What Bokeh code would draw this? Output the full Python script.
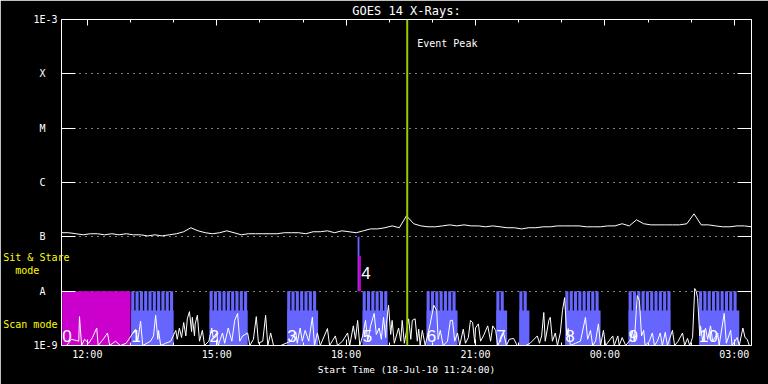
from bokeh.plotting import figure
from bokeh.models import FixedTicker, LinearAxis, LogAxis, Span
from bokeh.core.properties import value
from bokeh.embed import file_html
from bokeh.resources import INLINE

# ---------------- data ----------------
# time axis: minutes after start 18-Jul-10 11:24:00
t_min, t_max = 0, 960
tick_minutes = [36, 216, 396, 576, 756, 936]
tick_labels = ["12:00", "15:00", "18:00", "21:00", "00:00", "03:00"]
minor_minutes = [36, 96, 156, 216, 276, 336, 396, 456, 516, 576, 636, 696, 756, 816, 876, 936]

decade_values = [1e-9, 1e-8, 1e-7, 1e-6, 1e-5, 1e-4, 1e-3]
decade_labels = ["1E-9", "A", "B", "C", "M", "X", "1E-3"]

mode_label_values = [4.1e-8, 2.37e-8, 2.44e-9]
mode_label_texts = ["Sit & Stare", "mode", "Scan mode"]

# GOES 14 long channel (1-8 A), units of 1e-7 W/m^2, every 10 minutes
goes_t = list(range(0, 961, 10))
goes_f = [1.19, 1.19, 1.14, 1.09, 1.14, 1.14, 1.09, 1.14, 1.09, 1.14,
          1.09, 1.09, 1.04, 1.09, 1.04, 1.09, 1.14, 1.24, 1.47, 1.29,
          1.19, 1.14, 1.19, 1.29, 1.19, 1.09, 1.14, 1.14, 1.14, 1.14,
          1.14, 1.19, 1.19, 1.19, 1.14, 1.24, 1.24, 1.29, 1.19, 1.29,
          1.24, 1.19, 1.29, 1.40, 1.40, 1.47, 1.59, 1.47, 2.44, 1.74,
          1.59, 1.53, 1.53, 1.59, 1.66, 1.59, 1.66, 1.59, 1.59, 1.53,
          1.59, 1.53, 1.47, 1.47, 1.40, 1.47, 1.47, 1.53, 1.53, 1.59,
          1.59, 1.59, 1.59, 1.53, 1.53, 1.53, 1.59, 1.59, 1.74, 1.59,
          2.06, 1.74, 1.66, 1.66, 1.66, 1.66, 1.66, 1.74, 2.65, 1.66,
          1.66, 1.59, 1.53, 1.53, 1.59, 1.59, 1.53]

# short channel spikes near the floor, units of 1e-9 W/m^2
spike_t = [0, 7, 14, 24, 25, 28, 32, 38, 43, 49,
           51, 58, 64, 67, 75, 82, 90, 103, 106, 110,
           113, 124, 128, 131, 134, 135, 138, 145, 152, 159,
           161, 164, 167, 170, 173, 175, 178, 181, 182, 185,
           186, 189, 192, 196, 199, 205, 209, 211, 216, 218,
           224, 227, 232, 237, 241, 245, 248, 252, 259, 262,
           267, 271, 274, 280, 284, 287, 291, 295, 305, 319,
           326, 328, 332, 335, 339, 344, 349, 352, 356, 360,
           370, 373, 381, 384, 391, 398, 401, 406, 409, 412,
           415, 419, 423, 426, 430, 435, 438, 442, 445, 448,
           451, 452, 455, 458, 460, 463, 469, 472, 474, 477,
           483, 486, 488, 492, 495, 497, 499, 502, 506, 513,
           518, 522, 524, 527, 531, 537, 541, 544, 547, 551,
           554, 559, 562, 566, 569, 572, 575, 576, 580, 583,
           587, 593, 597, 600, 604, 607, 611, 615, 619, 623,
           629, 634, 646, 652, 662, 665, 668, 671, 673, 678,
           680, 683, 687, 690, 694, 697, 700, 703, 705, 708,
           715, 722, 729, 732, 736, 739, 743, 747, 750, 754,
           757, 767, 769, 774, 776, 780, 785, 792, 794, 797,
           801, 804, 807, 810, 812, 818, 822, 825, 829, 833,
           836, 840, 843, 850, 853, 858, 864, 867, 871, 874,
           878, 881, 883, 885, 888, 889, 892, 896, 899, 903,
           906, 913, 915, 922, 925, 931, 933, 940, 943, 948,
           951, 954, 957, 960]
spike_f = [1.0, 1.0, 1.3, 1.2, 3.4, 1.0, 1.3, 1.1, 1.4, 2.1,
           1.0, 1.3, 1.7, 1.0, 1.2, 1.0, 1.1, 2.0, 1.2, 2.8,
           1.0, 1.2, 1.5, 3.6, 1.3, 1.9, 1.0, 1.1, 1.2, 1.9,
           1.3, 2.1, 1.4, 2.65, 1.5, 3.1, 4.2, 1.8, 3.3, 1.5,
           2.5, 3.6, 1.2, 1.9, 1.0, 1.2, 2.1, 1.4, 1.7, 1.0,
           1.7, 1.1, 2.1, 1.2, 2.9, 3.9, 1.2, 1.5, 1.7, 1.0,
           1.3, 3.4, 1.1, 1.2, 3.6, 1.0, 1.7, 1.0, 1.0, 1.2,
           1.75, 1.1, 2.1, 1.2, 1.9, 1.2, 3.3, 1.0, 1.7, 1.0,
           2.05, 1.0, 1.5, 1.0, 1.2, 1.7, 1.0, 2.3, 1.3, 2.9,
           1.0, 1.5, 2.9, 1.2, 2.3, 3.9, 1.6, 2.1, 1.3, 3.3,
           1.4, 2.5, 5.5, 1.6, 2.9, 1.1, 2.1, 1.2, 2.9, 1.1,
           3.1, 1.3, 2.9, 3.1, 1.2, 2.0, 1.0, 1.9, 1.0, 2.5,
           5.5, 4.4, 1.3, 1.9, 1.0, 1.2, 2.9, 2.9, 1.2, 1.7,
           1.0, 2.0, 1.1, 1.4, 2.9, 2.65, 1.1, 2.1, 2.5, 1.2,
           1.5, 2.3, 1.2, 2.3, 1.9, 1.0, 1.3, 1.7, 1.0, 1.3,
           1.35, 1.0, 1.0, 1.1, 1.5, 1.1, 1.5, 4.05, 1.2, 2.9,
           3.3, 1.2, 1.7, 1.0, 1.7, 4.4, 7.6, 1.5, 2.05, 1.0,
           1.1, 1.2, 3.3, 1.3, 1.9, 1.0, 1.2, 2.5, 1.0, 1.9,
           1.0, 1.5, 1.0, 1.5, 1.0, 1.4, 1.0, 1.3, 1.9, 1.2,
           8.3, 6.7, 1.5, 1.9, 1.0, 1.2, 1.7, 1.0, 1.2, 1.7,
           1.0, 1.75, 1.0, 1.9, 1.0, 1.2, 1.7, 1.0, 1.35, 1.0,
           1.4, 11.2, 10.0, 7.6, 1.5, 2.3, 1.2, 2.1, 1.3, 2.3,
           1.2, 1.7, 1.0, 3.9, 1.1, 1.9, 1.0, 1.4, 1.0, 2.1,
           1.4, 1.3, 1.0, 1.0]

# observation modes (minutes after start)
scan_start = [97, 206, 314, 419, 508, 605, 637, 701, 789, 887]
scan_end = [156, 259, 357, 454, 551, 620, 651, 750, 847, 943]
scan_label_t = [97, 206, 314, 419, 508, 605, 701, 789, 887]
scan_label_text = ["1", "2", "3", "5", "6", "7", "8", "9", "10"]
scan_cadence = 6.0      # minutes between scans
scan_duration = 4.3     # minutes per scan
scan_band_top = 4.4e-9

stare_block_start, stare_block_end = [1], [96]
stare_block_label = "0"
stare_point_start, stare_point_end = 412, 414.5
stare_mag_start, stare_mag_end = 413, 416.5
stare_point_top = 1e-7
stare_mag_top = 4.5e-8
stare_label = "4"
stare_label_t = 417
stare_label_f = 2.18e-8
block_label_f = 1.52e-9

event_peak_t = 481

# ---------------- styling ----------------
BLUE = "#6666ff"
MAGENTA = "#cc00cc"
GREEN = "#99cc00"
YELLOW = "#ffff00"
MONO = "DejaVu Sans Mono"
NUMF = "Liberation Sans"
NB = "\u00a0"

p = figure(width=768, height=384, x_range=(t_min, t_max), y_range=(1e-9, 1e-3),
           y_axis_type="log", output_backend="svg", toolbar_location=None,
           min_border_left=61, min_border_right=17, min_border_top=19,
           min_border_bottom=39, title="GOES 14 X-Rays:")
p.background_fill_color = "black"
p.border_fill_color = "black"
p.outline_line_color = None
p.title.align = "center"
p.title.vertical_align = "top"
p.title.text_color = "white"
p.title.text_font = MONO
p.title.text_font_size = "12px"
p.title.text_font_style = "normal"
p.title.standoff = 0
p.title.offset = 0
p.xgrid.visible = False
p.ygrid.ticker = FixedTicker(ticks=decade_values)
p.ygrid.grid_line_color = "white"
p.ygrid.grid_line_dash = "1 5"
p.ygrid.grid_line_width = 1


def hide_labels(ax, ticks):
    ax.major_label_overrides = {t: "" for t in ticks}
    ax.major_label_text_font_size = "1px"
    ax.major_label_text_color = None
    ax.major_label_standoff = 0


def style_x(ax, labels):
    ax.ticker = FixedTicker(ticks=tick_minutes, minor_ticks=minor_minutes)
    ax.axis_line_color = "white"
    ax.major_tick_line_color = "white"
    ax.minor_tick_line_color = "white"
    ax.major_tick_in = 6
    ax.major_tick_out = 0
    ax.minor_tick_in = 3
    ax.minor_tick_out = 0
    if labels:
        ax.major_label_overrides = dict(zip(tick_minutes, tick_labels))
        ax.major_label_text_color = "white"
        ax.major_label_text_font = MONO
        ax.major_label_text_font_size = "10px"
        ax.major_label_standoff = 3
    else:
        hide_labels(ax, tick_minutes)


def style_y(ax):
    ax.ticker = FixedTicker(ticks=decade_values)
    ax.axis_line_color = "white"
    ax.major_tick_line_color = "white"
    ax.minor_tick_line_color = None
    ax.major_tick_in = 14
    ax.major_tick_out = 0


style_x(p.xaxis[0], True)
p.xaxis[0].axis_label = "Start Time (18-Jul-10 11:24:00)"
p.xaxis[0].axis_label_text_color = "white"
p.xaxis[0].axis_label_text_font = MONO
p.xaxis[0].axis_label_text_font_size = "9.5px"
p.xaxis[0].axis_label_text_font_style = "normal"
p.xaxis[0].axis_label_standoff = 1

# left axis: decade letters, roughly centred by padding with no-break spaces
left = p.yaxis[0]
style_y(left)
padded = [lab if len(lab) > 1 else lab + NB + NB for lab in decade_labels]
left.major_label_overrides = dict(zip(decade_values, padded))
left.major_label_text_color = "white"
left.major_label_text_font = MONO
left.major_label_text_font_size = "10px"
left.major_label_standoff = 4

# second left axis carrying the yellow mode labels
mode_pad = [NB * 0, NB * 5, NB * 2]
mode_axis = LogAxis(ticker=FixedTicker(ticks=mode_label_values))
mode_axis.major_label_overrides = {v: t + pad for v, t, pad in
                                   zip(mode_label_values, mode_label_texts, mode_pad)}
mode_axis.axis_line_color = None
mode_axis.major_tick_line_color = None
mode_axis.minor_tick_line_color = None
mode_axis.major_tick_in = 0
mode_axis.major_tick_out = 0
mode_axis.major_label_text_color = YELLOW
mode_axis.major_label_text_font = MONO
mode_axis.major_label_text_font_size = "10px"
mode_axis.major_label_standoff = -39
p.add_layout(mode_axis, "left")

top_axis = LinearAxis()
style_x(top_axis, False)
p.add_layout(top_axis, "above")
right_axis = LogAxis()
style_y(right_axis)
hide_labels(right_axis, decade_values)
p.add_layout(right_axis, "right")

# stare block 0 (magenta) and scan blocks (blue)
p.quad(left=stare_block_start, right=stare_block_end, bottom=1e-9, top=1e-8,
       fill_color=MAGENTA, line_color=None)
p.quad(left=scan_start, right=scan_end, bottom=1e-9, top=scan_band_top,
       fill_color=BLUE, line_color=None)
bar_left, bar_right = [], []
for s, e in zip(scan_start, scan_end):
    t = s
    while t + scan_duration <= e + 0.5:
        bar_left.append(t)
        bar_right.append(t + scan_duration)
        t += scan_cadence
p.quad(left=bar_left, right=bar_right, bottom=1e-9, top=1e-8,
       fill_color=BLUE, line_color=None)

# sit & stare point 4
p.quad(left=[stare_point_start], right=[stare_point_end], bottom=1e-8, top=stare_point_top,
       fill_color=BLUE, line_color=None)
p.quad(left=[stare_mag_start], right=[stare_mag_end], bottom=1e-8, top=stare_mag_top,
       fill_color=MAGENTA, line_color=None)

# data curves
p.line(spike_t, [v * 1e-9 for v in spike_f], line_color="white", line_width=1)
p.line(goes_t, [v * 1e-7 for v in goes_f], line_color="white", line_width=1)

# block numbers
p.text(x=scan_label_t + stare_block_start, y=[block_label_f] * (len(scan_label_t) + 1),
       text=scan_label_text + [stare_block_label],
       text_font=value(NUMF), text_font_size="17px", text_color="white",
       text_align="left", text_baseline="alphabetic")
p.text(x=[stare_label_t], y=[stare_label_f], text=[stare_label],
       text_font=value(NUMF), text_font_size="17px", text_color="white",
       text_align="left", text_baseline="alphabetic")

# event peak
p.add_layout(Span(location=event_peak_t, dimension="height", line_color=GREEN, line_width=2))
p.text(x=[event_peak_t], y=[3.6e-4], text=["Event Peak"], x_offset=10,
       text_color="white", text_font=value(MONO), text_font_size="10px",
       text_baseline="middle", text_align="left")

html = file_html(p, INLINE)
html = html.replace("<body>", '<body style="background-color:black;">', 1)
open("out.html", "w").write(html)
